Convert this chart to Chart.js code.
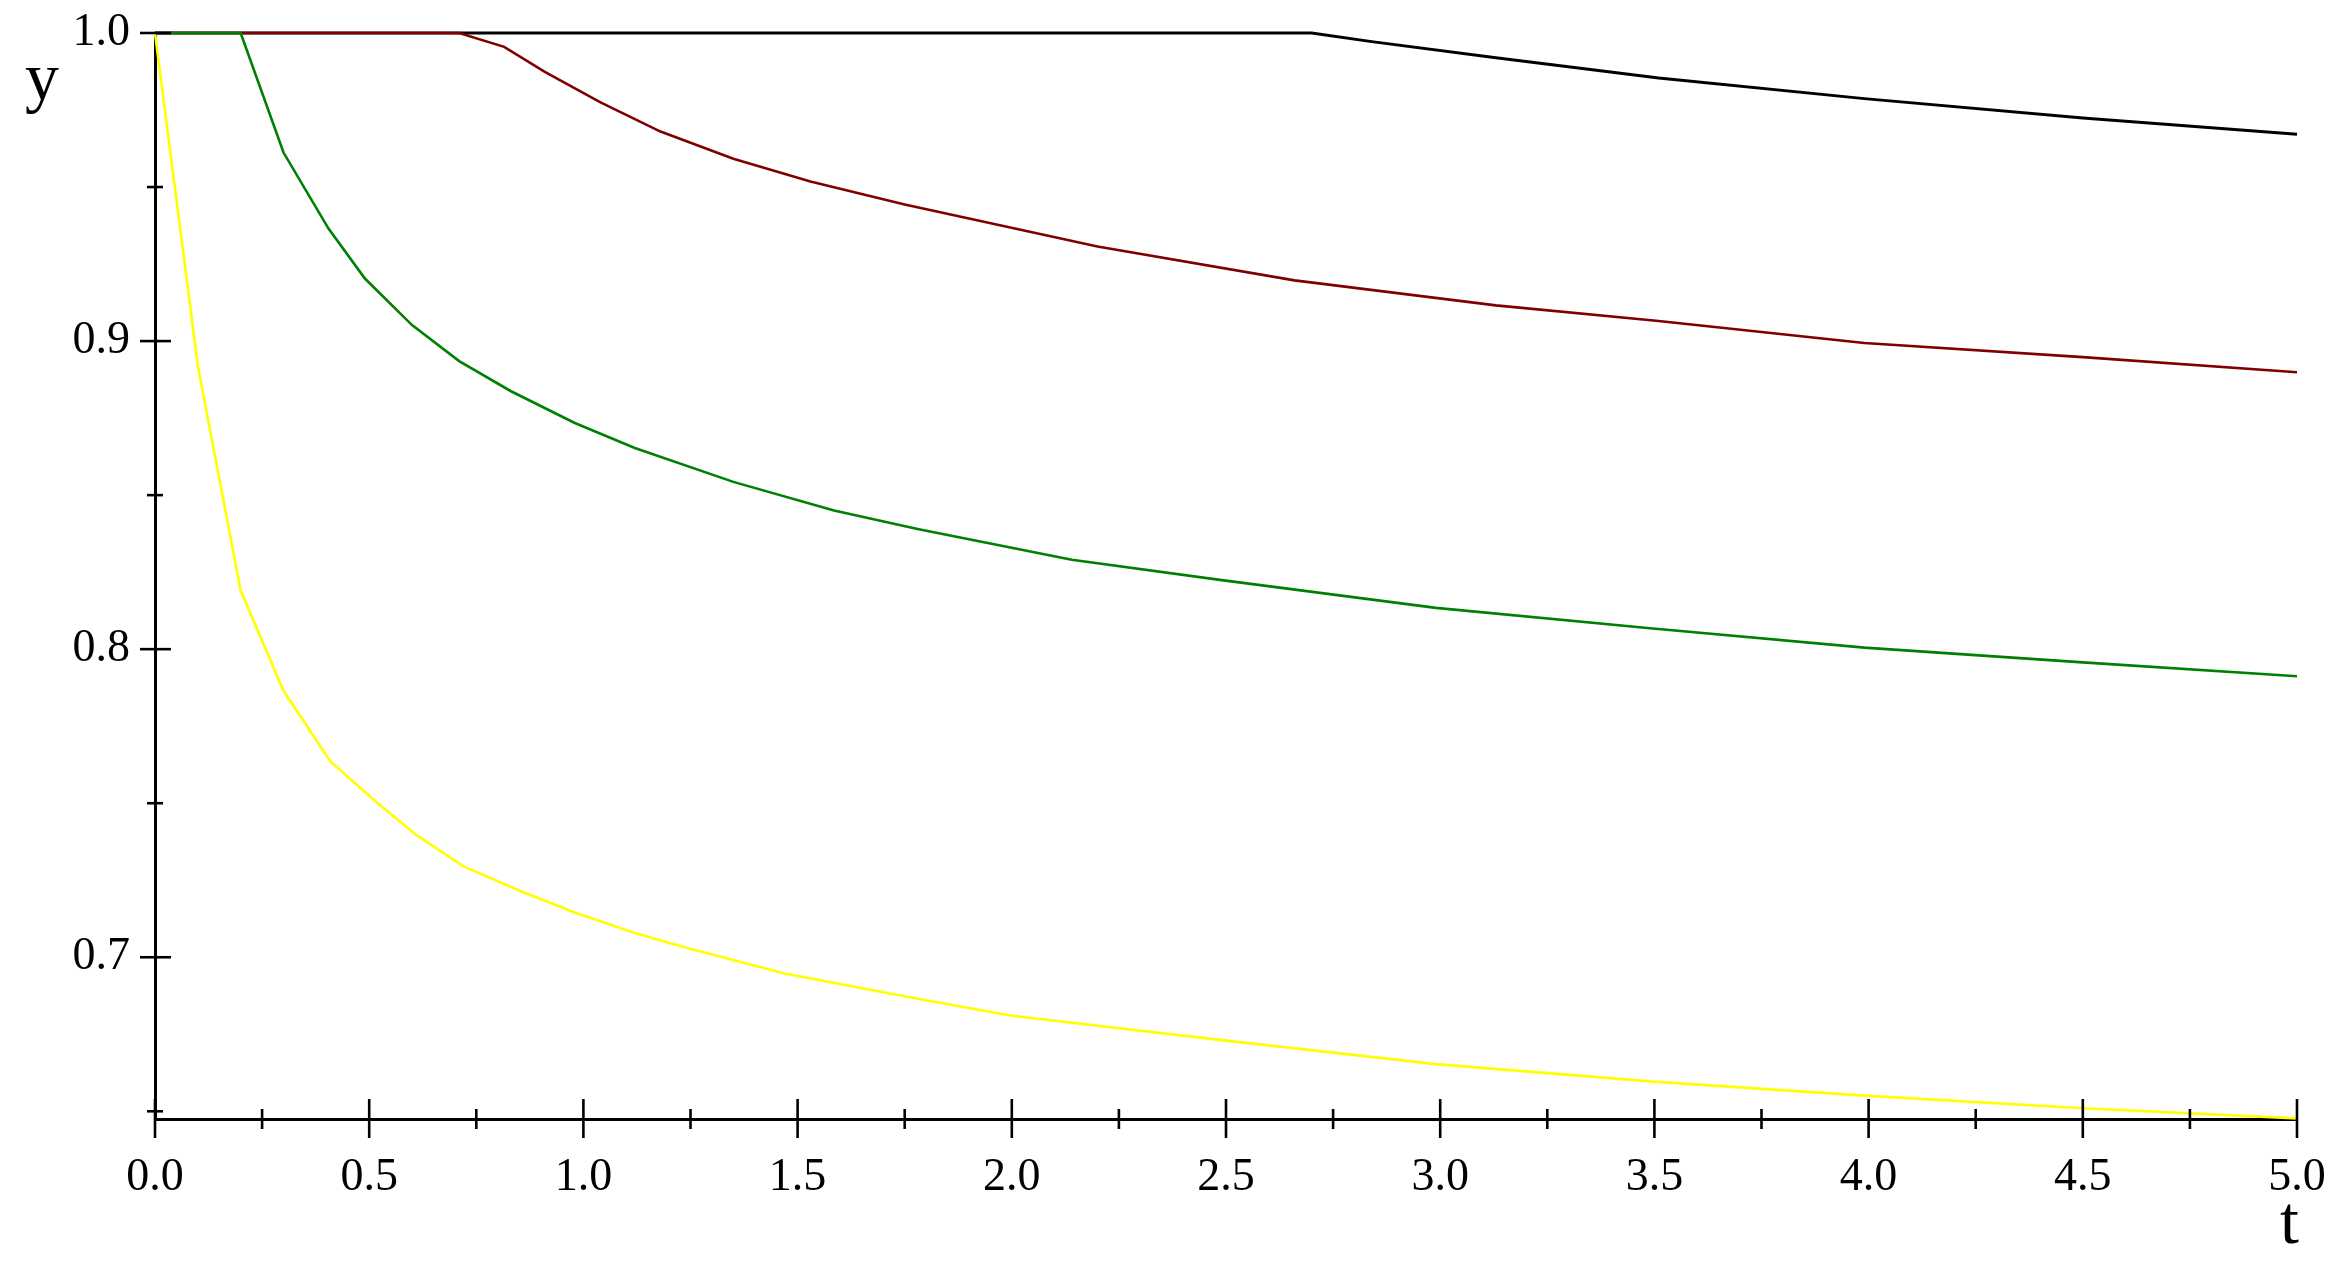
<!DOCTYPE html>
<html>
<head>
<meta charset="utf-8">
<script src="https://cdn.jsdelivr.net/npm/chart.js@4.4.1/dist/chart.umd.min.js"></script>
<style>
  html, body { margin: 0; padding: 0; background: #ffffff; }
  #wrap { width: 2342px; height: 1268px; }
  canvas { display: block; }
</style>
</head>
<body>
<div id="wrap"><canvas id="c" width="2342" height="1268"></canvas></div>
<script>
// ---- data ----
const tYellow = [0, 0.1, 0.2, 0.3, 0.41, 0.52, 0.61, 0.72, 0.86, 0.98, 1.12, 1.24, 1.47, 1.78, 2.0, 2.49, 2.99, 3.49, 3.99, 4.5, 5.0];
const yYellow = [1.0, 0.892, 0.819, 0.7865, 0.7635, 0.750, 0.7397, 0.7295, 0.7211, 0.7145, 0.7079, 0.7031, 0.6947, 0.6865, 0.681, 0.6731, 0.6653, 0.6597, 0.6551, 0.651, 0.6477];

const tGreen = [0, 0.2, 0.3, 0.405, 0.49, 0.6, 0.71, 0.83, 0.98, 1.12, 1.35, 1.585, 1.78, 2.14, 2.49, 2.99, 3.49, 3.99, 4.5, 5.0];
const yGreen = [1.0, 1.0, 0.9612, 0.9365, 0.9203, 0.9052, 0.8935, 0.8838, 0.8734, 0.8653, 0.8543, 0.845, 0.839, 0.829, 0.8224, 0.8134, 0.8068, 0.8005, 0.7957, 0.7912];

const tMaroon = [0, 0.71, 0.815, 0.91, 1.04, 1.18, 1.35, 1.53, 1.75, 2.2, 2.66, 3.13, 3.51, 3.99, 4.5, 5.0];
const yMaroon = [1.0, 1.0, 0.9955, 0.9874, 0.9775, 0.9680, 0.9592, 0.9518, 0.9443, 0.9307, 0.9197, 0.9116, 0.9065, 0.8994, 0.8948, 0.8899];

const tBlack = [0, 2.7, 2.84, 3.13, 3.51, 3.99, 4.5, 5.0];
const yBlack = [1.0, 1.0, 0.9972, 0.992, 0.9854, 0.9787, 0.9724, 0.9671];

const xTickValues = [0, 0.25, 0.5, 0.75, 1, 1.25, 1.5, 1.75, 2, 2.25, 2.5, 2.75, 3, 3.25, 3.5, 3.75, 4, 4.25, 4.5, 4.75, 5];
const xTickLabels = ['0.0', '', '0.5', '', '1.0', '', '1.5', '', '2.0', '', '2.5', '', '3.0', '', '3.5', '', '4.0', '', '4.5', '', '5.0'];
const yTickValues = [0.65, 0.7, 0.75, 0.8, 0.85, 0.9, 0.95, 1.0];
const yTickLabels = ['', '0.7', '', '0.8', '', '0.9', '', '1.0'];

const xAxisTitle = 't';
const yAxisTitle = 'y';

function pts(ts, ys) { return ts.map((t, i) => ({ x: t, y: ys[i] })); }

const FONT = "'Liberation Serif', 'DejaVu Serif', serif";

const tickPlugin = {
  id: 'mapleTicks',
  afterDraw(chart) {
    const ctx = chart.ctx;
    const xs = chart.scales.x, ys = chart.scales.y;
    const x0 = xs.getPixelForValue(0);
    const y0 = ys.getPixelForValue(ys.min);
    ctx.save();
    ctx.strokeStyle = '#000';
    ctx.lineWidth = 2.6;
    ctx.lineCap = 'butt';
    xTickValues.forEach((v, i) => {
      const px = xs.getPixelForValue(v);
      const major = xTickLabels[i] !== '';
      ctx.beginPath();
      ctx.moveTo(px, y0 - (major ? 20 : 10));
      ctx.lineTo(px, y0 + (major ? 19 : 10));
      ctx.stroke();
    });
    yTickValues.forEach((v, i) => {
      const py = ys.getPixelForValue(v);
      const major = yTickLabels[i] !== '';
      ctx.beginPath();
      ctx.moveTo(x0 - (major ? 15 : 8), py);
      ctx.lineTo(x0 + (major ? 16 : 8), py);
      ctx.stroke();
    });
    // axis titles
    ctx.fillStyle = '#000';
    ctx.font = '68px ' + FONT;
    ctx.textAlign = 'left';
    ctx.textBaseline = 'alphabetic';
    ctx.fillText(yAxisTitle, 25, 100);
    ctx.fillText(xAxisTitle, 2280, 1243);
    ctx.restore();
  }
};

Chart.defaults.font.family = FONT;
Chart.defaults.color = '#000';

new Chart(document.getElementById('c'), {
  type: 'scatter',
  data: {
    datasets: [
      { label: 'yellow', data: pts(tYellow, yYellow), borderColor: '#ffff00', borderWidth: 2.6 },
      { label: 'green', data: pts(tGreen, yGreen), borderColor: '#008000', borderWidth: 2.6 },
      { label: 'maroon', data: pts(tMaroon, yMaroon), borderColor: '#800000', borderWidth: 2.6 },
      { label: 'black', data: pts(tBlack, yBlack), borderColor: '#000000', borderWidth: 3 }
    ].map(d => Object.assign(d, { showLine: true, pointRadius: 0, pointHoverRadius: 0, tension: 0, clip: false, fill: false }))
  },
  options: {
    responsive: false,
    animation: false,
    devicePixelRatio: 1,
    layout: { padding: { left: 0, right: 45, top: 33, bottom: 0 } },
    plugins: { legend: { display: false }, tooltip: { enabled: false }, title: { display: false } },
    scales: {
      x: {
        type: 'linear',
        min: 0, max: 5,
        grid: { display: false, drawTicks: false },
        border: { display: true, color: '#000', width: 3 },
        afterBuildTicks: (s) => { s.ticks = xTickValues.map(v => ({ value: v })); },
        afterFit: (s) => { s.height = 149; s.paddingLeft = 0; s.paddingRight = 0; },
        ticks: {
          autoSkip: false, maxRotation: 0, minRotation: 0,
          padding: 31,
          font: { size: 46, family: FONT },
          color: '#000',
          callback: (v, i) => xTickLabels[i]
        }
      },
      y: {
        type: 'linear',
        min: 0.6475, max: 1.0,
        grid: { display: false, drawTicks: false },
        border: { display: true, color: '#000', width: 3 },
        afterBuildTicks: (s) => { s.ticks = yTickValues.map(v => ({ value: v })); },
        afterFit: (s) => { s.width = 155; s.paddingTop = 0; s.paddingBottom = 0; },
        ticks: {
          autoSkip: false,
          padding: 25,
          font: { size: 46, family: FONT },
          color: '#000',
          callback: (v, i) => yTickLabels[i]
        }
      }
    }
  },
  plugins: [tickPlugin]
});
</script>
</body>
</html>
